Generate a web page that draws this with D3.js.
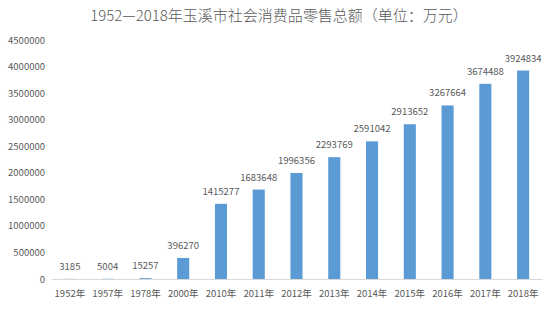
<!DOCTYPE html>
<html>
<head>
<meta charset="utf-8">
<script src="https://cdn.jsdelivr.net/npm/d3@7"></script>
<style>
body { margin: 0; background: #fff; }
text { font-family: "Noto Sans CJK SC", "Noto Sans", sans-serif; fill: #595959; }
</style>
</head>
<body>
<div id="chart"></div>
<script>
var width = 558, height = 309;
var margin = {top: 40, right: 16, bottom: 30, left: 51};

// data
var years = ["1952年", "1957年", "1978年", "2000年", "2010年", "2011年", "2012年",
             "2013年", "2014年", "2015年", "2016年", "2017年", "2018年"];
var sales = [3185, 5004, 15257, 396270, 1415277, 1683648, 1996356,
             2293769, 2591042, 2913652, 3267664, 3674488, 3924834];
var yTicks = [0, 500000, 1000000, 1500000, 2000000, 2500000, 3000000, 3500000, 4000000, 4500000];

var svg = d3.select("#chart").append("svg")
    .attr("width", width)
    .attr("height", height);

var x = d3.scaleBand()
    .domain(years)
    .range([margin.left, width - margin.right])
    .paddingInner(0.68)
    .paddingOuter(0.34);

var y = d3.scaleLinear()
    .domain([0, 4500000])
    .range([279, 40]);

// title
svg.append("text")
    .attr("x", width / 2)
    .attr("y", 21)
    .attr("text-anchor", "middle")
    .style("font-size", "15px")
    .style("font-weight", 300)
    .text("1952—2018年玉溪市社会消费品零售总额（单位：万元）");

// y axis labels
var yAxis = svg.append("g")
    .attr("transform", "translate(" + margin.left + ",0)")
    .call(d3.axisLeft(y).tickValues(yTicks).tickSize(0).tickPadding(6).tickFormat(d3.format("d")));
yAxis.select(".domain").remove();
yAxis.selectAll("text").style("font-size", "9.5px").attr("fill", "#595959");

// bars
svg.selectAll("rect.bar")
    .data(sales)
    .enter()
    .append("rect")
    .attr("class", "bar")
    .attr("x", function(d, i) { return x(years[i]); })
    .attr("width", x.bandwidth())
    .attr("y", function(d) { return y(d); })
    .attr("height", function(d) { return y(0) - y(d); })
    .attr("fill", "#5B9BD5");

// x axis
var xAxis = svg.append("g")
    .attr("transform", "translate(0," + y(0) + ")")
    .call(d3.axisBottom(x).tickSize(0).tickPadding(11));
xAxis.select(".domain").attr("stroke", "#D9D9D9");
xAxis.selectAll("text").style("font-size", "9.5px").attr("fill", "#595959");

// value labels
svg.selectAll("text.val")
    .data(sales)
    .enter()
    .append("text")
    .attr("class", "val")
    .attr("x", function(d, i) { return x(years[i]) + x.bandwidth() / 2; })
    .attr("y", function(d) { return y(d) - 9; })
    .attr("text-anchor", "middle")
    .style("font-size", "9.5px")
    .text(function(d) { return d; });
</script>
</body>
</html>
